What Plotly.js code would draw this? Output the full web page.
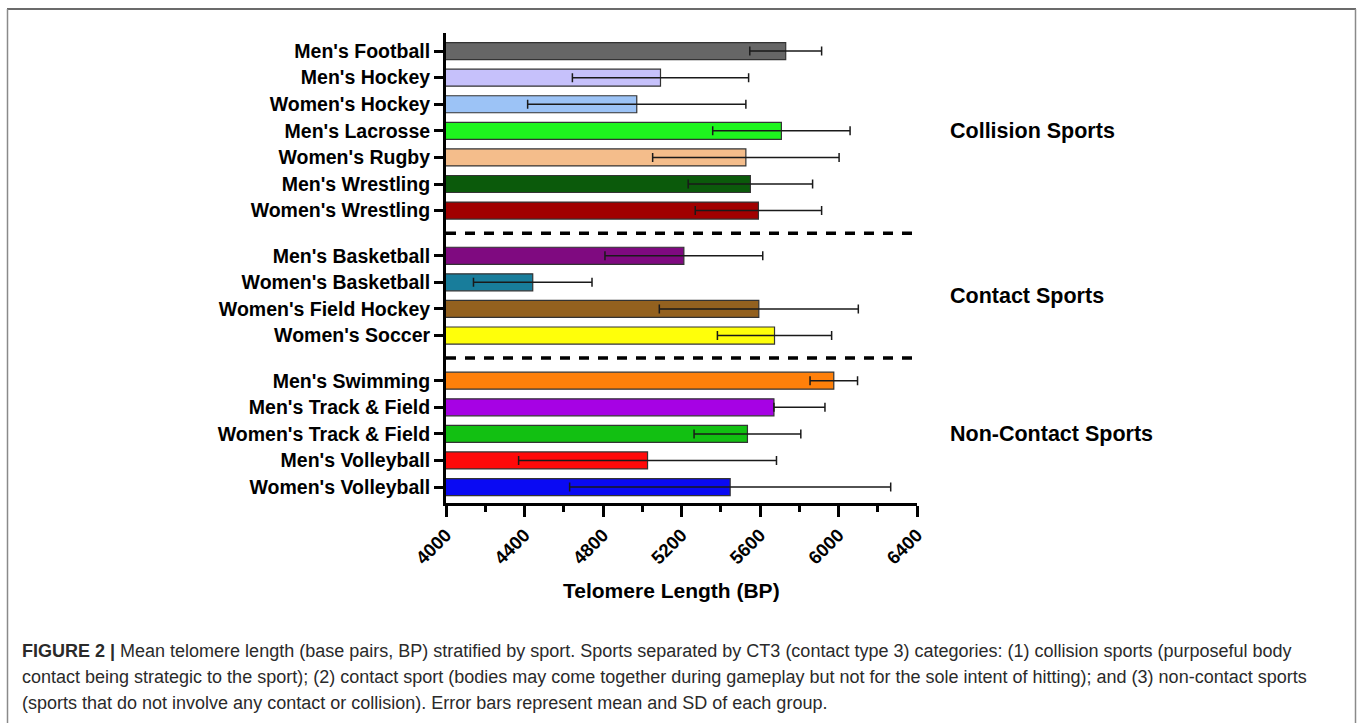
<!DOCTYPE html>
<html>
<head>
<meta charset="utf-8">
<script src="https://cdn.plot.ly/plotly-3.0.1.min.js"></script>
<style>
  html, body { margin: 0; padding: 0; background: #ffffff; }
  #chart { width: 1360px; height: 723px; }
</style>
</head>
<body>
<div id="chart"></div>
<script>
// Sports, in display order (top to bottom)
const sports = [
  "Men's Football", "Men's Hockey", "Women's Hockey", "Men's Lacrosse",
  "Women's Rugby", "Men's Wrestling", "Women's Wrestling",
  "Men's Basketball", "Women's Basketball", "Women's Field Hockey", "Women's Soccer",
  "Men's Swimming", "Men's Track & Field", "Women's Track & Field",
  "Men's Volleyball", "Women's Volleyball"
];
// CT3 category of each sport (index into groupNames)
const groupOf = [0, 0, 0, 0, 0, 0, 0, 1, 1, 1, 1, 2, 2, 2, 2, 2];
const groupNames = ["Collision Sports", "Contact Sports", "Non-Contact Sports"];

// Mean telomere length (BP) and SD per sport
const meanBP = [5731, 5093, 4972, 5709, 5528, 5551, 5592, 5212, 4442, 5594, 5674, 5976, 5671, 5536, 5027, 5448];
const sdBP   = [183, 449, 556, 350, 475, 317, 322, 402, 302, 507, 291, 121, 260, 272, 657, 818];
// lower whisker as drawn (Men's Track & Field shows the upper whisker only)
const sdBelowBP = [183, 449, 556, 350, 475, 317, 322, 402, 302, 507, 291, 121, 0, 272, 657, 818];

const barColors = [
  "#666666", "#c6c1fb", "#9cc3f6", "#1ef51e", "#f4bd8b", "#0b5a0b", "#a10000",
  "#7f0a80", "#187d9b", "#93611f", "#ffff0a",
  "#ff800a", "#a602e4", "#12c012", "#ff0a0a", "#0a0af3"
];

const xTickVals = [4000, 4400, 4800, 5200, 5600, 6000, 6400];
const axisTitle = "Telomere Length (BP)";
const captionLines = [
  "<b>FIGURE 2 |</b> Mean telomere length (base pairs, BP) stratified by sport. Sports separated by CT3 (contact type 3) categories: (1) collision sports (purposeful body",
  "contact being strategic to the sport); (2) contact sport (bodies may come together during gameplay but not for the sole intent of hitting); and (3) non-contact sports",
  "(sports that do not involve any contact or collision). Error bars represent mean and SD of each group."
];

// ---- layout geometry ----
const W = 1360, H = 723;
const M = { l: 446, r: 443, t: 33, b: 220 };
const GAP = 0.7;               // extra spacing between CT3 categories
const plotW = W - M.l - M.r, plotH = H - M.t - M.b;
const pxX = p => (p - M.l) / plotW;         // pixel -> paper x
const pxY = p => (H - M.b - p) / plotH;     // pixel -> paper y

const yPos = sports.map((s, i) => i + groupOf[i] * GAP);

// separator positions and category centres
const sepY = [], grpY = [];
groupNames.forEach((g, gi) => {
  const ys = yPos.filter((_, i) => groupOf[i] === gi);
  grpY.push((Math.min(...ys) + Math.max(...ys)) / 2);
  if (gi > 0) {
    const prev = yPos.filter((_, i) => groupOf[i] === gi - 1);
    sepY.push((Math.max(...prev) + Math.min(...ys)) / 2);
  }
});

const FONT = "Liberation Sans, Arial, Helvetica, sans-serif";

const trace = {
  type: "bar",
  orientation: "h",
  x: meanBP,
  y: yPos,
  marker: { color: barColors, line: { color: "#333333", width: 1.2 } },
  error_x: {
    type: "data", symmetric: false, array: sdBP, arrayminus: sdBelowBP, visible: true,
    color: "#1a1a1a", thickness: 1.5, width: 4.5
  },
  hoverinfo: "x+text",
  text: sports,
  textposition: "none"
};

const shapes = [];
sepY.forEach(y => shapes.push({
  type: "line", xref: "x", yref: "y", x0: 4000, x1: 6400, y0: y, y1: y,
  line: { color: "#000000", width: 3.5, dash: "10px,9px" }
}));
// figure frame
shapes.push({ type: "line", xref: "paper", yref: "paper", x0: pxX(7), x1: pxX(1356), y0: pxY(9), y1: pxY(9), line: { color: "#3a3a3a", width: 1.5 } });
shapes.push({ type: "line", xref: "paper", yref: "paper", x0: pxX(7.5), x1: pxX(7.5), y0: pxY(9), y1: pxY(740), line: { color: "#8a8a8a", width: 1.5 } });
shapes.push({ type: "line", xref: "paper", yref: "paper", x0: pxX(1355.5), x1: pxX(1355.5), y0: pxY(9), y1: pxY(740), line: { color: "#8a8a8a", width: 1.5 } });

const annotations = [];
groupNames.forEach((g, gi) => annotations.push({
  text: "<b>" + g + "</b>", xref: "paper", yref: "y", x: pxX(948), y: grpY[gi],
  xanchor: "left", yanchor: "middle", showarrow: false,
  font: { family: FONT, size: 21.5, color: "#000000" }
}));
captionLines.forEach((t, i) => annotations.push({
  text: t, xref: "paper", yref: "paper", x: pxX(20), y: pxY(651 + i * 26),
  xanchor: "left", yanchor: "middle", showarrow: false, align: "left",
  font: { family: FONT, size: 18, color: "#2a2a2a" }
}));
// axis title, centred under the tick labels
annotations.push({
  text: "<b>" + axisTitle + "</b>", xref: "paper", yref: "paper", x: pxX(671), y: pxY(590),
  xanchor: "center", yanchor: "middle", showarrow: false,
  font: { family: FONT, size: 21, color: "#000000" }
});

const layout = {
  width: W, height: H,
  margin: M,
  paper_bgcolor: "#ffffff", plot_bgcolor: "#ffffff",
  showlegend: false,
  bargap: 0.36,
  font: { family: FONT, color: "#000000" },
  xaxis: {
    range: [4000, 6400],
    tickvals: xTickVals,
    ticktext: xTickVals.map(String),
    tickangle: -45,
    ticks: "outside", ticklen: 11, tickwidth: 3, tickcolor: "#000000",
    minor: { dtick: 200, tick0: 4000, ticks: "outside", ticklen: 6, tickwidth: 3, tickcolor: "#000000", showgrid: false },
    showline: true, linewidth: 3, linecolor: "#000000",
    showgrid: false, zeroline: false,
    tickfont: { family: FONT, size: 18.5, weight: "bold", color: "#000000" }
  },
  yaxis: {
    range: [17.0, -0.68],
    tickvals: yPos,
    ticktext: sports,
    ticks: "outside", ticklen: 9, tickwidth: 3, tickcolor: "#000000",
    showline: true, linewidth: 3, linecolor: "#000000",
    showgrid: false, zeroline: false,
    tickfont: { family: FONT, size: 19.5, weight: "bold", color: "#000000" }
  },
  shapes: shapes,
  annotations: annotations
};

Plotly.newPlot("chart", [trace], layout, { displayModeBar: false, staticPlot: true });
</script>
</body>
</html>
